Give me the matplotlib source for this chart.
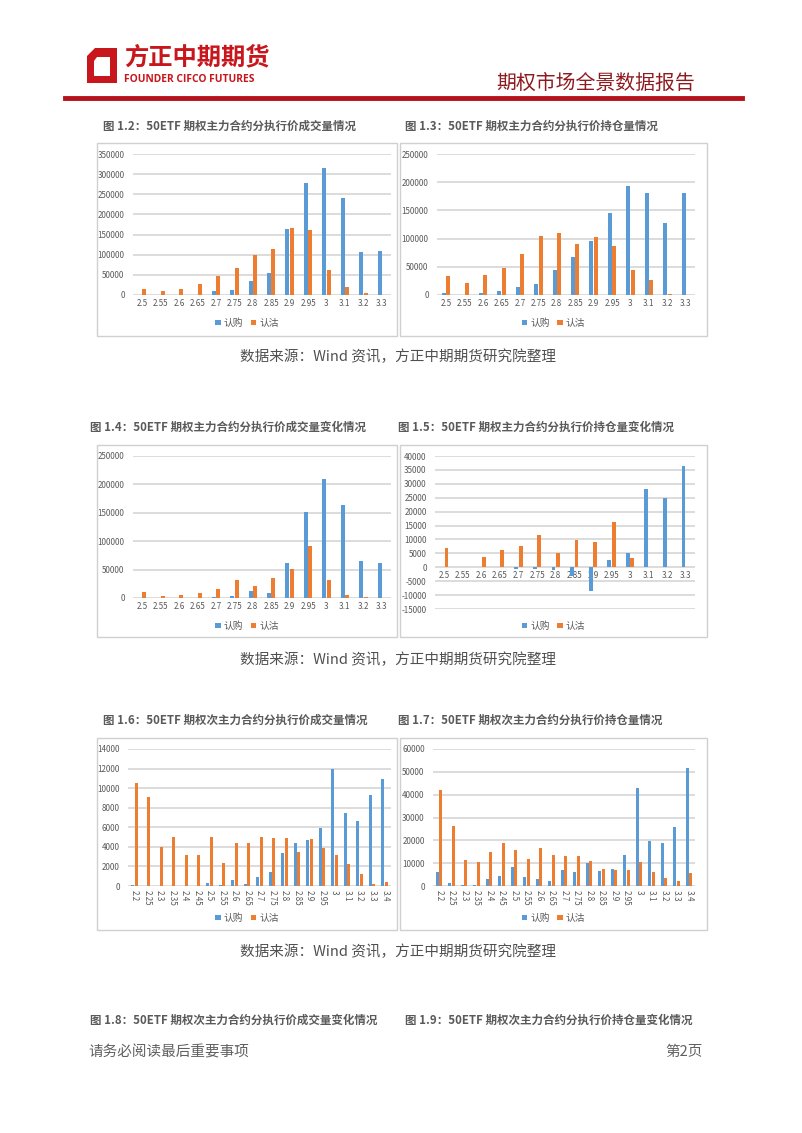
import matplotlib
matplotlib.use("Agg")
import matplotlib.pyplot as plt
from matplotlib.patches import Rectangle, Polygon
import numpy as np

plt.rcParams['font.family'] = ['Noto Sans CJK SC', 'DejaVu Sans']

W, H = 802, 1133

# ---------------- data ----------------
strikes_main = ["2.5", "2.55", "2.6", "2.65", "2.7", "2.75", "2.8", "2.85", "2.9", "2.95", "3", "3.1", "3.2", "3.3"]
strikes_sub = ["2.2", "2.25", "2.3", "2.35", "2.4", "2.45", "2.5", "2.55", "2.6", "2.65", "2.7", "2.75", "2.8",
               "2.85", "2.9", "2.95", "3", "3.1", "3.2", "3.3", "3.4"]

# 图1.2 主力合约成交量
vol_call = [1000, 0, 0, 0, 10000, 13000, 35000, 55000, 165000, 278000, 316000, 241000, 106000, 110000]
vol_put = [16000, 10000, 16000, 27000, 47000, 66000, 99000, 114000, 167000, 162000, 63000, 20000, 5000, 0]
# 图1.3 主力合约持仓量
oi_call = [3000, 0, 3000, 7000, 14000, 19000, 45000, 68000, 96000, 146000, 194000, 180000, 127000, 180000]
oi_put = [33000, 21000, 36000, 48000, 73000, 104000, 110000, 90000, 102000, 86000, 44000, 26000, 2000, 0]
# 图1.4 主力合约成交量变化
dvol_call = [0, 0, 0, 0, 2500, 3000, 13000, 9000, 62000, 151000, 209000, 164000, 66000, 62000]
dvol_put = [10000, 3000, 5000, 9000, 15000, 31000, 21000, 35000, 51000, 91000, 32000, 6000, 2000, 0]
# 图1.5 主力合约持仓量变化
doi_call = [0, 0, 0, 0, -500, -500, -1000, -3000, -8500, 2500, 5300, 28300, 25000, 36300]
doi_put = [7000, 0, 3800, 6300, 7500, 11500, 5000, 9700, 9000, 16400, 3500, 0, 0, 0]
# 图1.6 次主力合约成交量
svol_call = [100, 0, 0, 0, 0, 0, 300, 150, 650, 250, 900, 1400, 3400, 4400, 4750, 5900, 11950, 7500, 6600, 9300, 10900]
svol_put = [10500, 9100, 3950, 5000, 3200, 3200, 5000, 2400, 4350, 4350, 5000, 4900, 4950, 3500, 4800, 3850, 3200,
            2250, 1200, 200, 450]
# 图1.7 次主力合约持仓量
soi_call = [6000, 1200, 600, 500, 3200, 4500, 8500, 4000, 3000, 2300, 7000, 6300, 10200, 6500, 7300, 13700, 42800,
            19500, 19000, 25800, 51500]
soi_put = [42000, 26300, 11200, 10500, 14700, 19000, 15900, 11900, 16700, 13700, 13300, 13300, 11000, 7400, 6800,
           6900, 10700, 6200, 3700, 2100, 5800]

series_names = ["认购", "认沽"]

titles = [
    "图 1.2：50ETF 期权主力合约分执行价成交量情况",
    "图 1.3：50ETF 期权主力合约分执行价持仓量情况",
    "图 1.4：50ETF 期权主力合约分执行价成交量变化情况",
    "图 1.5：50ETF 期权主力合约分执行价持仓量变化情况",
    "图 1.6：50ETF 期权次主力合约分执行价成交量情况",
    "图 1.7：50ETF 期权次主力合约分执行价持仓量情况",
    "图 1.8：50ETF 期权次主力合约分执行价成交量变化情况",
    "图 1.9：50ETF 期权次主力合约分执行价持仓量变化情况",
]
source_text = "数据来源：Wind 资讯，方正中期期货研究院整理"

BLUE = "#5B9BD5"
ORANGE = "#ED7D31"
GRID = "#D9D9D9"
TICK = "#595959"
RED = "#C8161D"

fig = plt.figure(figsize=(W / 100, H / 100), dpi=100)
fig.patch.set_facecolor("white")


def fx(x):
    return x / W


def fy(y):
    return 1 - y / H


def add_ax(x0, y0, x1, y1):
    return fig.add_axes([fx(x0), fy(y1), (x1 - x0) / W, (y1 - y0) / H])


def box(x0, y0, x1, y1):
    fig.patches.append(Rectangle((fx(x0), fy(y1)), (x1 - x0) / W, (y1 - y0) / H,
                                 transform=fig.transFigure, facecolor="none",
                                 edgecolor="#D0D0D0", linewidth=1.0))


def bar_chart(rect, boxrect, cats, call, put, ylim, step, legend_y, width, offs, rotate=False, zero_axis=False):
    box(*boxrect)
    ax = add_ax(*rect)
    x = np.arange(len(cats))
    ax.bar(x - offs, call, width, color=BLUE, label=series_names[0], zorder=3)
    ax.bar(x + offs, put, width, color=ORANGE, label=series_names[1], zorder=3)
    ax.set_xlim(-0.5, len(cats) - 0.5)
    ax.set_ylim(*ylim)
    ticks = np.arange(ylim[0], ylim[1] + 1, step)
    ax.set_yticks(ticks)
    ax.set_yticklabels([str(int(v)) for v in ticks])
    ax.yaxis.grid(True, color=GRID, linewidth=1.3, zorder=0)
    ax.set_axisbelow(True)
    ax.set_xticks(x)
    if rotate:
        ax.set_xticklabels(cats, rotation=-90, va="top", ha="center")
    else:
        ax.set_xticklabels(cats)
    for s in ax.spines.values():
        s.set_visible(False)
    if zero_axis:
        ax.spines['bottom'].set_position(('data', 0))
    ax.tick_params(axis="both", length=0, labelsize=5.8, colors=TICK, pad=3)
    ax.tick_params(axis="y", pad=6)
    ax.patch.set_alpha(0)
    cx = (boxrect[0] + boxrect[2]) / 2
    ax.legend(loc="center", bbox_to_anchor=(fx(cx), fy(legend_y)), bbox_transform=fig.transFigure,
              ncol=2, frameon=False, fontsize=7, handlelength=0.55, handleheight=0.55,
              handletextpad=0.3, columnspacing=0.8, labelcolor=TICK)
    return ax


w1, o1 = 0.21, 0.12
w2, o2 = 0.24, 0.14

bar_chart((133, 154, 391, 295), (97, 143, 397, 336), strikes_main, vol_call, vol_put,
          (0, 350000), 50000, 323, w1, o1)
bar_chart((437, 154, 695, 295), (400, 143, 707, 336), strikes_main, oi_call, oi_put,
          (0, 250000), 50000, 323, w1, o1)
bar_chart((133, 456, 391, 598), (97, 445, 397, 637), strikes_main, dvol_call, dvol_put,
          (0, 250000), 50000, 626, w1, o1)
bar_chart((435, 456, 695, 609), (400, 445, 707, 637), strikes_main, doi_call, doi_put,
          (-15000, 40000), 5000, 626, w1, o1, zero_axis=True)
bar_chart((128, 749, 391, 886), (97, 738, 397, 930), strikes_sub, svol_call, svol_put,
          (0, 14000), 2000, 918, w2, o2, rotate=True)
bar_chart((433, 749, 695, 886), (400, 738, 707, 930), strikes_sub, soi_call, soi_put,
          (0, 60000), 10000, 918, w2, o2, rotate=True)

# ---------------- titles ----------------
title_pos = [(103, 126), (405, 126), (90, 427), (398, 427), (103, 720), (398, 720), (90, 1020), (405, 1020)]
for t, (x, y) in zip(titles, title_pos):
    fig.text(fx(x), fy(y), t, fontsize=8.3, color="#5A5A5A", fontweight="bold", ha="left", va="center")

for y in (357, 660, 952):
    fig.text(fx(398), fy(y), source_text, fontsize=10.5, color="#505050", ha="center", va="center")

# ---------------- header ----------------
logo_outer = Polygon([(fx(95), fy(48)), (fx(117), fy(48)), (fx(117), fy(83)), (fx(87), fy(83)),
                      (fx(87), fy(56))], closed=True, transform=fig.transFigure, facecolor=RED, edgecolor="none")
logo_inner = Polygon([(fx(97), fy(57)), (fx(110), fy(57)), (fx(110), fy(76)), (fx(94), fy(76)),
                      (fx(94), fy(61))], closed=True, transform=fig.transFigure, facecolor="white", edgecolor="none")
fig.patches.extend([logo_outer, logo_inner])
fig.text(fx(124), fy(57), "方正中期期货", fontsize=17.5, color=RED, fontweight="bold", ha="left", va="center")
fig.text(fx(124), fy(79.5), "FOUNDER CIFCO FUTURES", fontsize=7.4, color=RED, fontweight="bold",
         ha="left", va="center", family=["Open Sans", "DejaVu Sans"])
fig.text(fx(695), fy(83), "期权市场全景数据报告", fontsize=14.3, color="#8E1B1F", ha="right", va="center")
fig.add_artist(plt.Line2D([fx(65), fx(742)], [fy(98), fy(98)], transform=fig.transFigure,
                          color="#B5121B", linewidth=3.5))

# ---------------- footer ----------------
fig.text(fx(88), fy(1052), "请务必阅读最后重要事项", fontsize=10.5, color="#606060", ha="left", va="center")
fig.text(fx(703), fy(1052), "第2页", fontsize=10.5, color="#606060", ha="right", va="center")

fig.savefig("out.png", dpi=100, facecolor="white")
